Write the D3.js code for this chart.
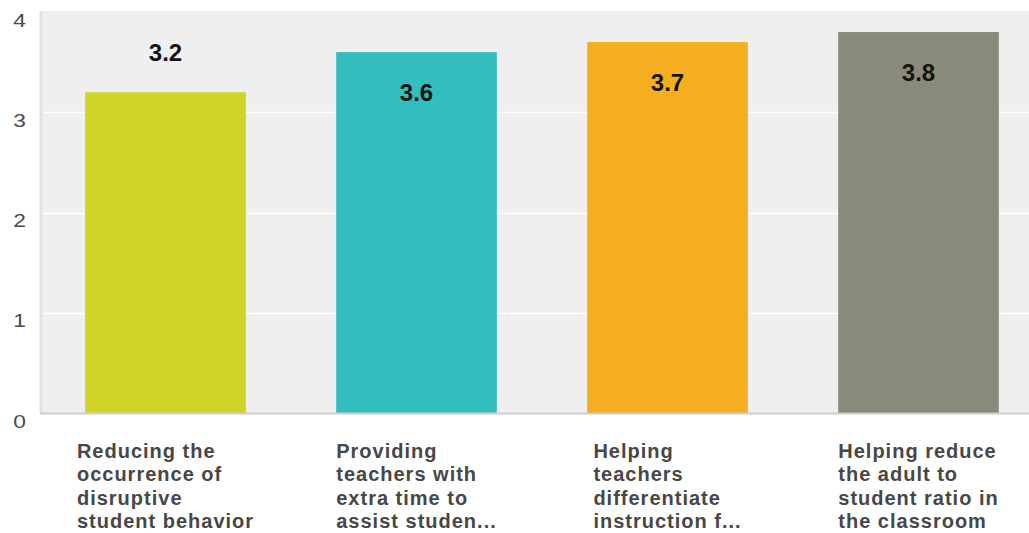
<!DOCTYPE html>
<html>
<head>
<meta charset="utf-8">
<script src="https://cdn.jsdelivr.net/npm/d3@7"></script>
<style>
  html, body { margin: 0; padding: 0; background: #fff; }
  svg { display: block; font-family: "Liberation Sans", Arial, sans-serif; }
</style>
</head>
<body>
<svg id="chart" width="1029" height="533"></svg>
<script>
// ---- data ----
const categories = [
  "Reducing the occurrence of disruptive student behavior",
  "Providing teachers with extra time to assist studen...",
  "Helping teachers differentiate instruction f...",
  "Helping reduce the adult to student ratio in the classroom"
];
const labelLines = [
  ["Reducing the", "occurrence of", "disruptive", "student behavior"],
  ["Providing", "teachers with", "extra time to", "assist studen..."],
  ["Helping", "teachers", "differentiate", "instruction f..."],
  ["Helping reduce", "the adult to", "student ratio in", "the classroom"]
];
const values = [3.2, 3.6, 3.7, 3.8];
const colors = ["#cfd427", "#33bdbf", "#f5ae1f", "#898a79"];
const yTicks = [0, 1, 2, 3, 4];

// ---- layout ----
const svg = d3.select("#chart");
const mLeft = 40, mRight = 1044, mTop = 12, mBottom = 413;

const x = d3.scaleBand().domain(categories).range([mLeft, mRight])
  .paddingInner(0.36).paddingOuter(0.18);
const y = d3.scaleLinear().domain([0, 4]).range([mBottom, mTop]);

// plot background
svg.append("rect").attr("x", mLeft).attr("y", mTop - 1)
  .attr("width", mRight - mLeft).attr("height", mBottom - mTop + 1)
  .attr("fill", "#efefef");

// gridlines
svg.append("g").selectAll("line").data(yTicks.filter(d => d > 0 && d < 4)).join("line")
  .attr("x1", mLeft).attr("x2", mRight)
  .attr("y1", d => Math.round(y(d)) + 0.5).attr("y2", d => Math.round(y(d)) + 0.5)
  .attr("stroke", "#ffffff").attr("stroke-width", 1.5);

// y axis via d3.axisLeft (tick labels only)
const yAxis = svg.append("g").attr("transform", `translate(26,0)`)
  .call(d3.axisLeft(y).tickValues(yTicks).tickSize(0).tickPadding(0).tickFormat(d3.format("d")));
yAxis.select(".domain").remove();
yAxis.selectAll("text")
  .attr("fill", "#4a4a4a").attr("font-size", 19)
  .attr("font-family", "Liberation Sans, Arial, sans-serif")
  .attr("dy", 14).attr("text-anchor", "end")
  .attr("transform", "scale(1.2,1)");

// left axis band
svg.append("line").attr("x1", mLeft + 1).attr("x2", mLeft + 1)
  .attr("y1", mTop - 1).attr("y2", mBottom)
  .attr("stroke", "#e2e2e2").attr("stroke-width", 3);

// bars
svg.append("g").selectAll("rect").data(values).join("rect")
  .attr("x", (d, i) => x(categories[i]))
  .attr("y", d => y(d))
  .attr("width", x.bandwidth())
  .attr("height", d => y(0) - y(d))
  .attr("fill", (d, i) => colors[i]);

// bottom axis line
svg.append("line").attr("x1", mLeft).attr("x2", mRight)
  .attr("y1", mBottom + 0.5).attr("y2", mBottom + 0.5)
  .attr("stroke", "#cfcfcf").attr("stroke-width", 2);

// value labels
svg.append("g").selectAll("text").data(values).join("text")
  .attr("x", (d, i) => x(categories[i]) + x.bandwidth() / 2)
  .attr("y", d => d >= 3.5 ? y(d) + 40 : y(d) - 40)
  .attr("dy", "0.36em")
  .attr("text-anchor", "middle")
  .attr("font-size", 24).attr("font-weight", "bold").attr("fill", "#141414")
  .text(d => d3.format(".1f")(d));

// category labels (block centered on band, lines left-aligned)
labelLines.forEach((lines, i) => {
  const cx = x(categories[i]) + x.bandwidth() / 2;
  const g = svg.append("g");
  const t = g.append("text")
    .attr("font-size", 20).attr("font-weight", "bold").attr("fill", "#474747")
    .attr("letter-spacing", 1);
  lines.forEach((ln, j) => {
    t.append("tspan").attr("x", 0).attr("y", 458 + j * 23.3).text(ln);
  });
  const w = t.node().getBBox().width;
  g.attr("transform", `translate(${cx - w / 2},0)`);
});
</script>
</body>
</html>
